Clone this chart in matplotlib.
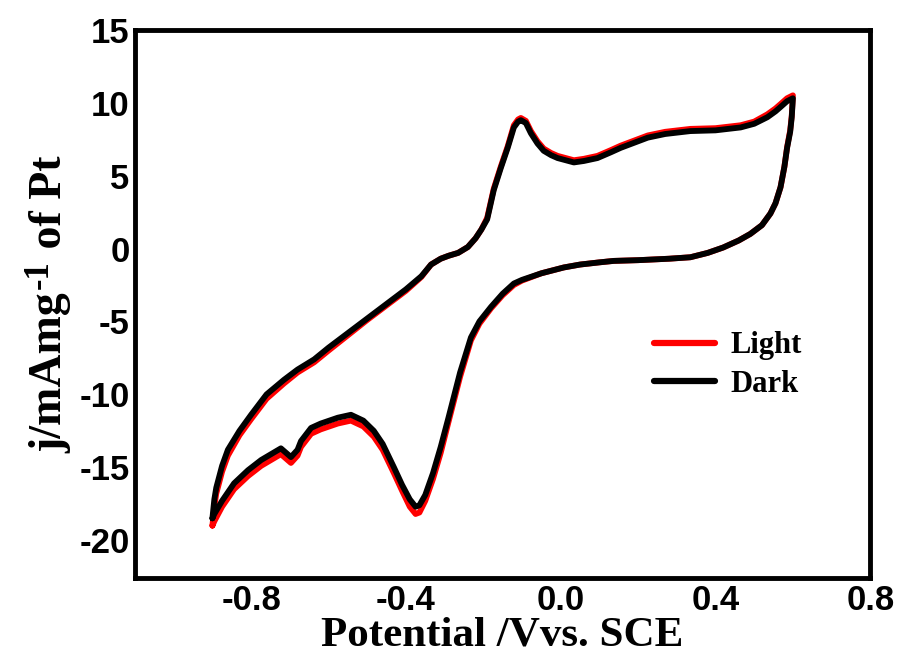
import matplotlib
matplotlib.use("Agg")
import matplotlib.pyplot as plt

plt.rcParams["axes.unicode_minus"] = False

# anodic sweep, -0.9 V -> 0.6 V
v_fwd = [-0.900, -0.895, -0.89, -0.875, -0.86, -0.83, -0.80, -0.76, -0.715, -0.68,
         -0.637, -0.60, -0.55, -0.50, -0.45, -0.40, -0.36, -0.335, -0.31, -0.29,
         -0.265, -0.24, -0.22, -0.205, -0.19, -0.173, -0.155, -0.137, -0.121, -0.11,
         -0.103, -0.09, -0.077, -0.06, -0.044, -0.025, -0.008, 0.034, 0.06, 0.095,
         0.13, 0.155, 0.20, 0.225, 0.27, 0.335, 0.40, 0.465, 0.50, 0.534,
         0.555, 0.568, 0.585, 0.60]
j_fwd_dark = [-18.5, -17.2, -16.4, -14.9, -13.8, -12.5, -11.4, -10.0, -9.0, -8.3,
              -7.6, -6.8, -5.8, -4.8, -3.8, -2.8, -1.9, -1.1, -0.7, -0.5,
              -0.3, 0.1, 0.7, 1.3, 2.0, 4.0, 5.5, 6.9, 8.3, 8.7,
              8.8, 8.6, 7.9, 7.2, 6.7, 6.4, 6.2, 5.9, 6.0, 6.2,
              6.6, 6.9, 7.35, 7.6, 7.85, 8.05, 8.1, 8.3, 8.55, 9.0,
              9.4, 9.7, 10.1, 10.3]
j_fwd_light = [-19.0, -17.7, -16.8, -15.3, -14.2, -12.8, -11.7, -10.3, -9.25, -8.5,
               -7.8, -7.0, -5.95, -4.9, -3.9, -2.9, -1.95, -1.1, -0.7, -0.5,
               -0.3, 0.1, 0.7, 1.3, 2.1, 4.1, 5.6, 7.0, 8.45, 8.85,
               8.95, 8.75, 8.05, 7.35, 6.85, 6.55, 6.35, 6.05, 6.15, 6.35,
               6.75, 7.05, 7.5, 7.75, 8.0, 8.2, 8.25, 8.45, 8.7, 9.2,
               9.6, 9.9, 10.3, 10.5]

# cathodic sweep, 0.6 V -> -0.9 V
v_rev = [0.60, 0.597, 0.593, 0.585, 0.578, 0.568, 0.555, 0.542, 0.52, 0.49,
         0.46, 0.42, 0.38, 0.335, 0.28, 0.20, 0.137, 0.10, 0.05, 0.008,
         -0.05, -0.10, -0.121, -0.15, -0.18, -0.21, -0.232, -0.26, -0.29, -0.31,
         -0.33, -0.35, -0.365, -0.375, -0.39, -0.41, -0.431, -0.46, -0.483, -0.51,
         -0.542, -0.576, -0.62, -0.645, -0.671, -0.68, -0.697, -0.723, -0.774, -0.808,
         -0.844, -0.875, -0.895, -0.900]
j_rev_dark = [10.3, 9.0, 8.0, 6.9, 5.6, 4.2, 3.1, 2.4, 1.6, 1.0,
              0.55, 0.07, -0.3, -0.6, -0.7, -0.8, -0.85, -0.95, -1.1, -1.3,
              -1.7, -2.15, -2.4, -3.1, -4.0, -5.0, -6.1, -8.5, -11.6, -13.6,
              -15.4, -16.9, -17.6, -17.7, -17.2, -16.2, -15.0, -13.4, -12.5, -11.8,
              -11.4, -11.6, -12.0, -12.3, -13.2, -13.8, -14.3, -13.7, -14.5, -15.2,
              -16.1, -17.3, -18.2, -18.5]
j_rev_light = [10.5, 9.1, 8.1, 6.95, 5.6, 4.2, 3.1, 2.4, 1.6, 1.0,
               0.55, 0.07, -0.3, -0.6, -0.7, -0.8, -0.85, -0.95, -1.1, -1.3,
               -1.7, -2.2, -2.5, -3.2, -4.1, -5.15, -6.3, -8.8, -11.9, -14.0,
               -15.8, -17.3, -18.1, -18.2, -17.7, -16.6, -15.4, -13.8, -12.9, -12.2,
               -11.8, -12.0, -12.4, -12.7, -13.6, -14.2, -14.7, -14.1, -14.9, -15.6,
               -16.5, -17.7, -18.7, -19.0]

x_ticks = [-0.8, -0.4, 0.0, 0.4, 0.8]
x_ticklabels = ["-0.8", "-0.4", "0.0", "0.4", "0.8"]
y_ticks = [-20, -15, -10, -5, 0, 5, 10, 15]

W, H = 900, 660
fig = plt.figure(figsize=(W / 100, H / 100), dpi=100)
ax = fig.add_axes([0.15, 0.124, 0.817, 0.831])

ax.plot(v_fwd + v_rev, j_fwd_light + j_rev_light, color="#ff0000", lw=4.2,
        solid_joinstyle="round", solid_capstyle="round", label="Light")
ax.plot(v_fwd + v_rev, j_fwd_dark + j_rev_dark, color="black", lw=4.2,
        solid_joinstyle="round", solid_capstyle="round", label="Dark")

ax.set_xlim(-1.1, 0.8)
ax.set_ylim(-22.6, 15)
ax.set_xticks(x_ticks)
ax.set_xticklabels(x_ticklabels)
ax.set_yticks(y_ticks)
ax.tick_params(length=0, pad=4)
for lab in ax.get_xticklabels() + ax.get_yticklabels():
    lab.set_fontfamily("Liberation Sans")
    lab.set_fontweight("bold")
    lab.set_fontsize(25)

for sp in ax.spines.values():
    sp.set_linewidth(3.5)

serif = {"family": "Liberation Serif", "weight": "bold", "size": 31}
ax.set_xlabel("Potential /Vvs. SCE", fontdict=serif, labelpad=0)

# y label built from pieces so the superscript stays large
renderer = fig.canvas.get_renderer()
kw = dict(rotation=90, rotation_mode="anchor", ha="left", va="baseline",
          family="Liberation Serif", weight="bold")
base_x, start_y = 61, 453
t1 = fig.text(base_x / W, 1 - start_y / H, "j/mAmg", size=33, **kw)
top = t1.get_window_extent(renderer).y1
t2 = fig.text((base_x - 13) / W, (top + 3) / H, "-1", size=25, **kw)
top = t2.get_window_extent(renderer).y1
fig.text(base_x / W, top / H, " of Pt", size=33, **kw)

leg = ax.legend(loc="upper left", bbox_to_anchor=(0.668, 0.50), frameon=False,
                prop={"family": "Liberation Serif", "weight": "bold", "size": 22},
                handlelength=2.0, handletextpad=0.5, labelspacing=0.3)
for line in leg.get_lines():
    line.set_linewidth(4.5)

fig.savefig("out.png", dpi=100)
